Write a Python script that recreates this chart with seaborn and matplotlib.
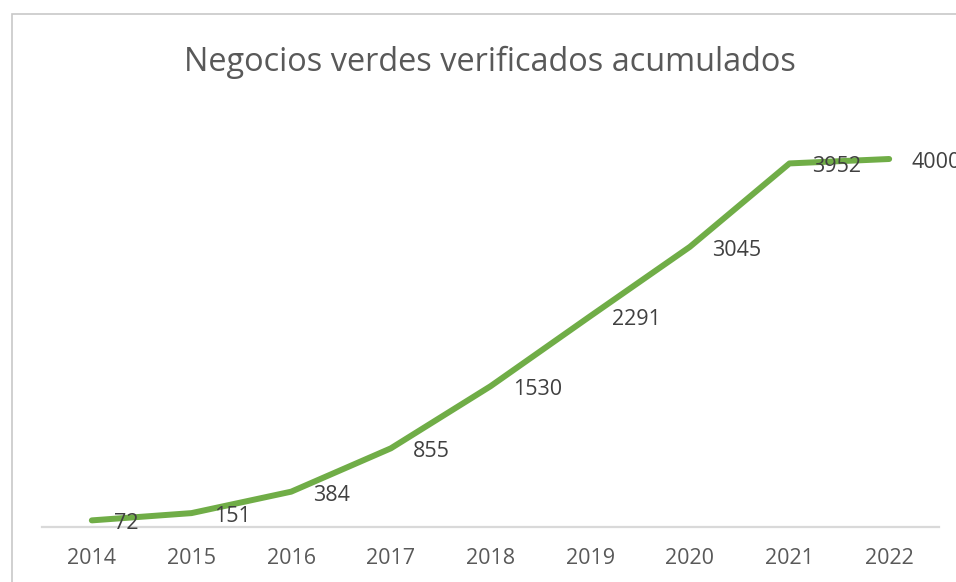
import matplotlib
matplotlib.use("Agg")
import matplotlib.pyplot as plt
import seaborn as sns
import pandas as pd
from matplotlib.patches import Rectangle

# Data
years = [2014, 2015, 2016, 2017, 2018, 2019, 2020, 2021, 2022]
negocios = [72, 151, 384, 855, 1530, 2291, 3045, 3952, 4000]

df = pd.DataFrame({"year": years, "negocios": negocios})

sns.set_style("white")
plt.rcParams["font.family"] = ["Open Sans", "DejaVu Sans"]

fig = plt.figure(figsize=(9.56, 5.82), dpi=100)
ax = fig.add_axes([42 / 956, 1 - 527 / 582, (939 - 42) / 956, (527 - 113) / 582])

sns.lineplot(data=df, x="year", y="negocios", ax=ax, color="#70AD47",
             linewidth=4.3, solid_capstyle="round")

# Data labels to the right of each point
for x, y in zip(years, negocios):
    ax.annotate(str(y), (x, y), xytext=(16, -2.5), textcoords="offset points",
                ha="left", va="center", fontsize=15.5, color="#404040")

ax.set_xlim(years[0] - 0.5, years[-1] + 0.5)
ax.set_ylim(0, 4500)
ax.set_xticks(years)
ax.set_xticklabels([str(y) for y in years], fontsize=15.5, color="#595959")
ax.set_yticks([])
ax.set_xlabel("")
ax.set_ylabel("")
ax.tick_params(axis="x", length=0, pad=15)

for side in ["top", "right", "left"]:
    ax.spines[side].set_visible(False)
ax.spines["bottom"].set_color("#D9D9D9")
ax.spines["bottom"].set_linewidth(1.6)

fig.text(490 / 956, 1 - 62 / 582, "Negocios verdes verificados acumulados",
         ha="center", va="center", fontsize=23.4, color="#595959")

# Chart frame (cropped at right and bottom)
fig.patches.append(Rectangle((12 / 956, -0.1), 1.2, 1 - 14 / 582 + 0.1,
                             transform=fig.transFigure, fill=False,
                             edgecolor="#C8C8C8", linewidth=1.2, clip_on=False))

fig.savefig("out.png", dpi=100)
